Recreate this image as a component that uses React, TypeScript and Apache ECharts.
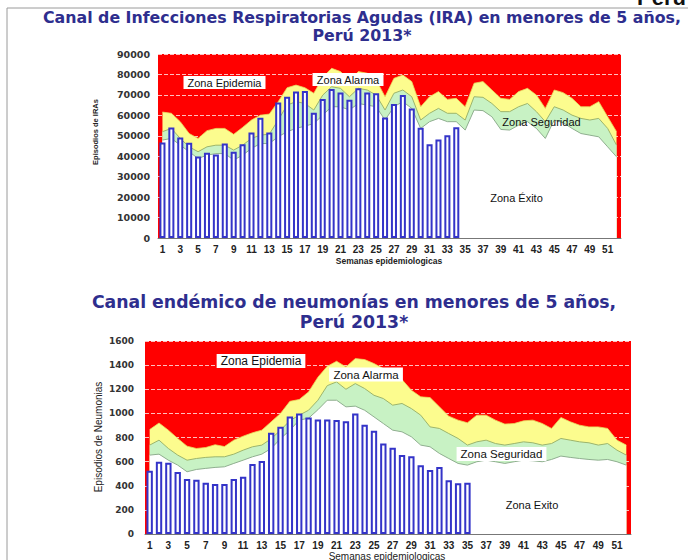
import React, { useEffect, useRef } from "react";
import * as echarts from "echarts";

const weeks: string[] = Array.from({ length: 52 }, (_, i) => String(i + 1));

// IRA chart (top)
const iraCases = [46700, 54100, 49200, 46600, 39900, 41700, 40800, 46200, 42200, 45900, 51600, 58800, 51600, 66300, 69100, 71600, 71900, 61300, 68000, 72900, 71200, 67600, 73200, 71200, 70800, 59000, 65500, 69900, 63400, 53900, 45900, 48200, 50300, 54200];
const iraUpper = [61600, 61000, 56900, 51100, 48700, 52500, 53600, 53600, 50700, 54100, 57700, 60100, 60600, 66700, 73500, 74800, 73500, 70800, 78600, 83000, 81400, 77000, 81400, 80600, 77300, 69100, 78100, 79700, 76500, 64200, 69100, 71600, 67800, 68300, 64200, 75700, 76500, 72400, 68300, 67800, 71600, 73200, 69900, 63400, 72400, 71100, 68300, 64200, 64200, 66700, 59300, 52000];
const iraMid = [52000, 53600, 48700, 44600, 42200, 44600, 45400, 45400, 43000, 45400, 48700, 50300, 50800, 57700, 65000, 66700, 65800, 62600, 69900, 74000, 73200, 69100, 73200, 72400, 69900, 62600, 70800, 72400, 69100, 57700, 61000, 63400, 61000, 61000, 57700, 69100, 68800, 65800, 61800, 61800, 64200, 65800, 61800, 56900, 64200, 62600, 60100, 58500, 57700, 58500, 53600, 45400];
const iraLow = [47900, 48700, 45400, 42200, 38900, 40500, 41300, 41300, 38100, 40500, 43800, 46200, 46200, 49500, 52000, 53600, 54700, 56000, 60100, 64200, 64200, 62600, 65800, 65000, 64200, 57700, 64200, 66700, 63400, 53600, 56900, 58500, 56900, 56900, 52800, 62600, 62300, 59300, 53100, 52800, 55200, 56900, 53600, 48700, 57700, 56400, 53600, 51100, 50300, 49500, 44600, 39700];

// Neumonías chart (bottom)
const neuCases = [525, 600, 590, 515, 455, 450, 425, 415, 415, 455, 475, 580, 605, 840, 890, 975, 1000, 965, 950, 950, 945, 935, 1000, 905, 855, 750, 715, 655, 645, 570, 530, 555, 445, 420, 425];
const neuUpper = [866, 920, 861, 792, 728, 709, 717, 740, 725, 778, 811, 839, 861, 930, 1000, 1100, 1115, 1178, 1300, 1390, 1432, 1385, 1454, 1446, 1413, 1371, 1330, 1280, 1192, 1137, 1131, 1054, 977, 944, 922, 985, 985, 944, 911, 916, 938, 944, 916, 875, 966, 930, 902, 888, 888, 875, 778, 737];
const neuMid = [737, 778, 709, 654, 612, 626, 635, 640, 640, 662, 695, 723, 737, 790, 860, 940, 985, 1026, 1109, 1230, 1261, 1200, 1247, 1206, 1150, 1123, 1068, 1082, 1040, 985, 888, 875, 833, 792, 737, 764, 778, 750, 737, 750, 764, 756, 737, 750, 792, 778, 764, 756, 737, 750, 695, 654];
const neuLow = [654, 662, 612, 571, 516, 535, 544, 552, 557, 585, 612, 640, 662, 709, 790, 860, 944, 960, 1030, 1109, 1109, 1054, 1060, 1026, 971, 916, 861, 847, 806, 737, 723, 668, 626, 585, 571, 599, 612, 599, 585, 599, 612, 607, 599, 618, 646, 635, 626, 618, 612, 618, 599, 571];

const title1 = "Canal de Infecciones Respiratorias Agudas (IRA) en menores de 5 años,\nPerú 2013*";
const title2 = "Canal endémico de neumonías en menores de 5 años,\nPerú 2013*";

const RED = "#ff0000";
const YELLOW = "#fcfc8e";
const GREEN = "#c8f2c4";
const BLUE = "#3434c8";
const FONT = "Liberation Sans, Arial, sans-serif";

function bandSeries(idx: number, upper: number[], mid: number[], low: number[], cases: number[]) {
  const common = { type: "line", xAxisIndex: idx, yAxisIndex: idx, symbol: "none", silent: true };
  return [
    { ...common, name: "upper" + idx, data: upper, z: 2, lineStyle: { width: 0.8, color: "#e8d860" }, areaStyle: { color: YELLOW, opacity: 1 } },
    { ...common, name: "mid" + idx, data: mid, z: 3, lineStyle: { width: 1, color: "#9cb46c" }, areaStyle: { color: GREEN, opacity: 1 } },
    { ...common, name: "low" + idx, data: low, z: 4, lineStyle: { width: 1, color: "#8fae8f" }, areaStyle: { color: "#ffffff", opacity: 1 } },
    { type: "bar", name: "cases" + idx, xAxisIndex: idx, yAxisIndex: idx, data: cases, z: 5, barWidth: "68%", itemStyle: { color: "#ffffff", borderColor: BLUE, borderWidth: 2 } },
  ];
}

function zoneLabel(text: string, x: number, y: number, size: number, box: boolean) {
  return {
    type: "text",
    x,
    y,
    z: 100,
    style: {
      text,
      fontSize: size,
      fontFamily: FONT,
      fill: "#111",
      textAlign: "center",
      textVerticalAlign: "middle",
      align: "center",
      verticalAlign: "middle",
      backgroundColor: box ? "#ffffff" : undefined,
      padding: box ? [1, 4] : 0,
    },
  };
}

function axisText(text: string, x: number, y: number, size: number, weight: string, rotate: boolean) {
  return {
    type: "text",
    x,
    y,
    rotation: rotate ? Math.PI / 2 : 0,
    z: 100,
    style: {
      text,
      fontSize: size,
      fontWeight: weight,
      fontFamily: FONT,
      fill: "#222",
      textAlign: "center",
      textVerticalAlign: "middle",
      align: "center",
      verticalAlign: "middle",
    },
  };
}

export default function App() {
  const ref = useRef<HTMLDivElement>(null);
  useEffect(() => {
    if (!ref.current) return;
    const chart = echarts.init(ref.current, undefined, { renderer: "svg" });
    const plain = (v: number) => String(v);
    const option: any = {
      animation: false,
      backgroundColor: "#ffffff",
      grid: [
        { left: 158, top: 54, width: 463, height: 184, show: true, backgroundColor: RED, borderWidth: 0 },
        { left: 145, top: 341, width: 486, height: 193, show: true, backgroundColor: RED, borderWidth: 0 },
      ],
      xAxis: [0, 1].map((i) => ({
        type: "category",
        gridIndex: i,
        data: weeks,
        boundaryGap: true,
        axisTick: { show: false },
        axisLine: { show: true, lineStyle: { color: "#777", width: 1 } },
        axisLabel: { fontFamily: FONT, fontWeight: "bold", color: "#222", interval: 1, fontSize: 10, margin: i === 0 ? 6 : 6 },
      })),
      yAxis: [
        {
          type: "value", gridIndex: 0, min: 0, max: 90000, interval: 10000,
          axisLine: { show: false }, axisTick: { show: false },
          axisLabel: { fontFamily: "DejaVu Sans, sans-serif", fontWeight: "bold", color: "#333", fontSize: 9.5, margin: 8, formatter: plain },
          splitLine: { show: true, lineStyle: { color: "rgba(255,255,255,0.75)", type: "dashed", width: 1 } },
        },
        {
          type: "value", gridIndex: 1, min: 0, max: 1600, interval: 200,
          axisLine: { show: false }, axisTick: { show: false },
          axisLabel: { fontFamily: "DejaVu Sans, sans-serif", fontWeight: "bold", color: "#333", fontSize: 9, margin: 11, formatter: plain },
          splitLine: { show: true, lineStyle: { color: "rgba(255,255,255,0.75)", type: "dashed", width: 1 } },
        },
      ],
      series: [
        ...bandSeries(0, iraUpper, iraMid, iraLow, iraCases),
        ...bandSeries(1, neuUpper, neuMid, neuLow, neuCases),
      ],
      graphic: [
        { type: "line", z: 50, shape: { x1: 7, y1: 8, x2: 688, y2: 8 }, style: { stroke: "#9a9a9a", lineWidth: 1 } },
        { type: "line", z: 50, shape: { x1: 7, y1: 8, x2: 7, y2: 560 }, style: { stroke: "#9a9a9a", lineWidth: 1 } },
        {
          type: "text", x: 637, y: 8, z: 40,
          style: { text: "Perú", fontSize: 22, fontWeight: "bold", fontFamily: FONT, fill: "#111", textVerticalAlign: "bottom", verticalAlign: "bottom" },
        },
        { type: "rect", z: 45, shape: { x: 630, y: 8.5, width: 58, height: 8 }, style: { fill: "#ffffff" } },
        {
          type: "text", x: 362, y: 8, z: 100,
          style: { text: title1, fontSize: 15.8, fontWeight: "bold", fontFamily: "DejaVu Sans, Verdana, sans-serif", fill: "#2e2e8e", textAlign: "center", align: "center", lineHeight: 18 },
        },
        {
          type: "text", x: 354, y: 292, z: 100,
          style: { text: title2, fontSize: 17.3, fontWeight: "bold", fontFamily: "DejaVu Sans, Verdana, sans-serif", fill: "#2e2e8e", textAlign: "center", align: "center", lineHeight: 20 },
        },
        axisText("Episodios de IRAs", 95, 132, 7.5, "bold", true),
        axisText("Episodios de Neumonias", 98, 437, 10, "normal", true),
        axisText("Semanas epidemiologicas", 389, 261, 8.5, "bold", false),
        axisText("Semanas epidemiologicas", 387, 556, 10, "normal", false),
        zoneLabel("Zona Epidemia", 224.5, 82.5, 11, true),
        zoneLabel("Zona Alarma", 348, 79.5, 11, true),
        zoneLabel("Zona Seguridad", 541.5, 122, 11, false),
        zoneLabel("Zona Éxito", 516.5, 198, 11, false),
        zoneLabel("Zona Epidemia", 261, 361, 12, true),
        zoneLabel("Zona Alarma", 366, 374.5, 11.5, true),
        zoneLabel("Zona Seguridad", 501.5, 454, 11.5, true),
        zoneLabel("Zona Exito", 532, 505, 11, false),
      ],
    };
    chart.setOption(option);
    return () => chart.dispose();
  }, []);
  return <div ref={ref} style={{ position: "absolute", left: 0, top: 0, width: 688, height: 560, background: "#fff" }} />;
}
